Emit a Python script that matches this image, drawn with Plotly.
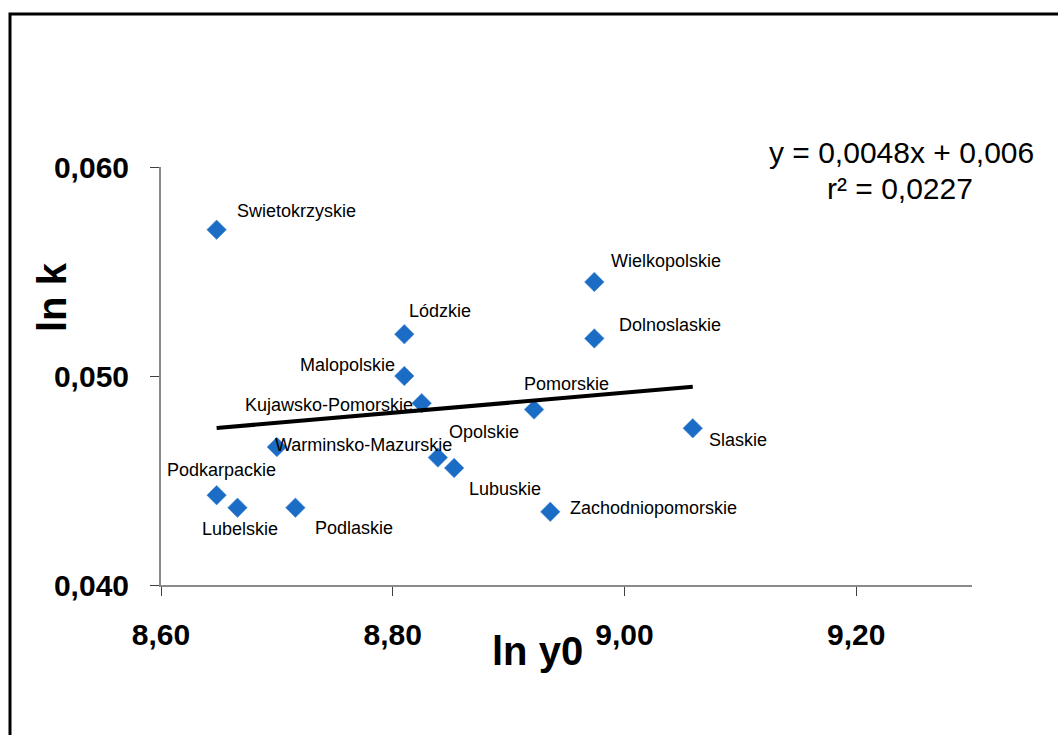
import plotly.graph_objects as go

# Regions: ln of initial income (x) and ln of convergence rate k (y)
regions = ["Swietokrzyskie", "Lódzkie", "Malopolskie", "Kujawsko-Pomorskie",
           "Pomorskie", "Warminsko-Mazurskie", "Opolskie", "Lubuskie",
           "Podkarpackie", "Lubelskie", "Podlaskie", "Zachodniopomorskie",
           "Wielkopolskie", "Dolnoslaskie", "Slaskie"]
ln_y0 = [8.648, 8.810, 8.810, 8.825, 8.922, 8.700, 8.839, 8.853,
         8.648, 8.666, 8.716, 8.936, 8.974, 8.974, 9.059]
ln_k = [0.0570, 0.0520, 0.0500, 0.0487, 0.0484, 0.0466, 0.0461, 0.0456,
        0.0443, 0.0437, 0.0437, 0.0435, 0.0545, 0.0518, 0.0475]

# Linear trend as stated in the equation label
slope = 0.0048
intercept = 0.006
r_squared = 0.0227

x_ticks = [8.60, 8.80, 9.00, 9.20]
x_tick_text = ["8,60", "8,80", "9,00", "9,20"]
y_ticks = [0.040, 0.050, 0.060]
y_tick_text = ["0,040", "0,050", "0,060"]

# label offsets (pixels) relative to each marker: (dx to left edge, dy upward)
label_offsets = {
    "Swietokrzyskie": (18, 19), "Lódzkie": (3, 23), "Malopolskie": (-106, 11),
    "Kujawsko-Pomorskie": (-179, -2), "Pomorskie": (-12, 25),
    "Warminsko-Mazurskie": (-4, 2), "Opolskie": (9, 26), "Lubuskie": (13, -21),
    "Podkarpackie": (-52, 25), "Lubelskie": (-37, -21), "Podlaskie": (18, -20),
    "Zachodniopomorskie": (18, 4), "Wielkopolskie": (15, 21),
    "Dolnoslaskie": (23, 13), "Slaskie": (14, -12),
}

FONT = "Liberation Sans, Arial, sans-serif"

x_line = [min(ln_y0), max(ln_y0)]
y_line = [slope * v + intercept for v in x_line]

fig = go.Figure()
fig.add_trace(go.Scatter(
    x=ln_y0, y=ln_k, mode="markers",
    marker=dict(symbol="diamond", size=15, color="#1b6cc4",
                line=dict(width=0.6, color="#4a8ad6")),
    hoverinfo="text", text=regions, showlegend=False,
))
fig.add_trace(go.Scatter(
    x=x_line, y=y_line, mode="lines",
    line=dict(color="black", width=4), showlegend=False, hoverinfo="skip",
))

annotations = []
for name, xv, yv in zip(regions, ln_y0, ln_k):
    dx, dy = label_offsets[name]
    annotations.append(dict(
        x=xv, y=yv, xref="x", yref="y", text=name, showarrow=False,
        xanchor="left", yanchor="middle", xshift=dx, yshift=dy,
        font=dict(family=FONT, size=18, color="black"),
    ))

# axis titles
annotations.append(dict(
    x=(537 - 161) / 811, y=(585 - 651) / 418, xref="paper", yref="paper",
    text="<b>ln y0</b>", showarrow=False, xanchor="center", yanchor="middle",
    font=dict(family=FONT, size=40, color="black"),
))
annotations.append(dict(
    x=(52 - 161) / 811, y=(585 - 297) / 418, xref="paper", yref="paper",
    text="<b>ln k</b>", showarrow=False, xanchor="center", yanchor="middle",
    textangle=-90, font=dict(family=FONT, size=40, color="black"),
))

# regression equation
fmt = lambda v, d: f"{v:.{d}f}".replace(".", ",")
annotations.append(dict(
    x=(901 - 161) / 811, y=(585 - 153) / 418, xref="paper", yref="paper",
    text=f"y = {fmt(slope, 4)}x + {fmt(intercept, 3)}", showarrow=False,
    xanchor="center", yanchor="middle", borderpad=0,
    font=dict(family=FONT, size=30, color="black"),
))
annotations.append(dict(
    x=(900 - 161) / 811, y=(585 - 188) / 418, xref="paper", yref="paper",
    text=f"r² = {fmt(r_squared, 4)}", showarrow=False,
    xanchor="center", yanchor="middle", borderpad=0,
    font=dict(family=FONT, size=30, color="black"),
))

# outer chart frame
shapes = [dict(
    type="rect", xref="paper", yref="paper",
    x0=(10 - 161) / 811, x1=(1075 - 161) / 811,
    y0=(585 - 760) / 418, y1=(585 - 14) / 418,
    line=dict(color="black", width=3), fillcolor="rgba(0,0,0,0)", layer="above",
)]

fig.update_layout(
    width=1058, height=735,
    margin=dict(l=161, r=86, t=167, b=150, pad=0),
    paper_bgcolor="white", plot_bgcolor="white",
    annotations=annotations, shapes=shapes,
    xaxis=dict(
        range=[8.60, 9.30], tickvals=x_ticks, ticktext=x_tick_text,
        showgrid=False, zeroline=False, showline=True, linecolor="#8a8a8a",
        linewidth=2, ticks="outside", ticklen=9, tickcolor="#404040",
        tickwidth=1, ticklabelstandoff=13,
        tickfont=dict(family=FONT, size=30, color="black", weight="bold"),
    ),
    yaxis=dict(
        range=[0.040, 0.060], tickvals=y_ticks, ticktext=y_tick_text,
        showgrid=False, zeroline=False, showline=True, linecolor="#8a8a8a",
        linewidth=2, ticks="outside", ticklen=9, tickcolor="#404040",
        tickwidth=1, ticklabelstandoff=15,
        tickfont=dict(family=FONT, size=30, color="black", weight="bold"),
    ),
)

fig.write_html("out.html")
